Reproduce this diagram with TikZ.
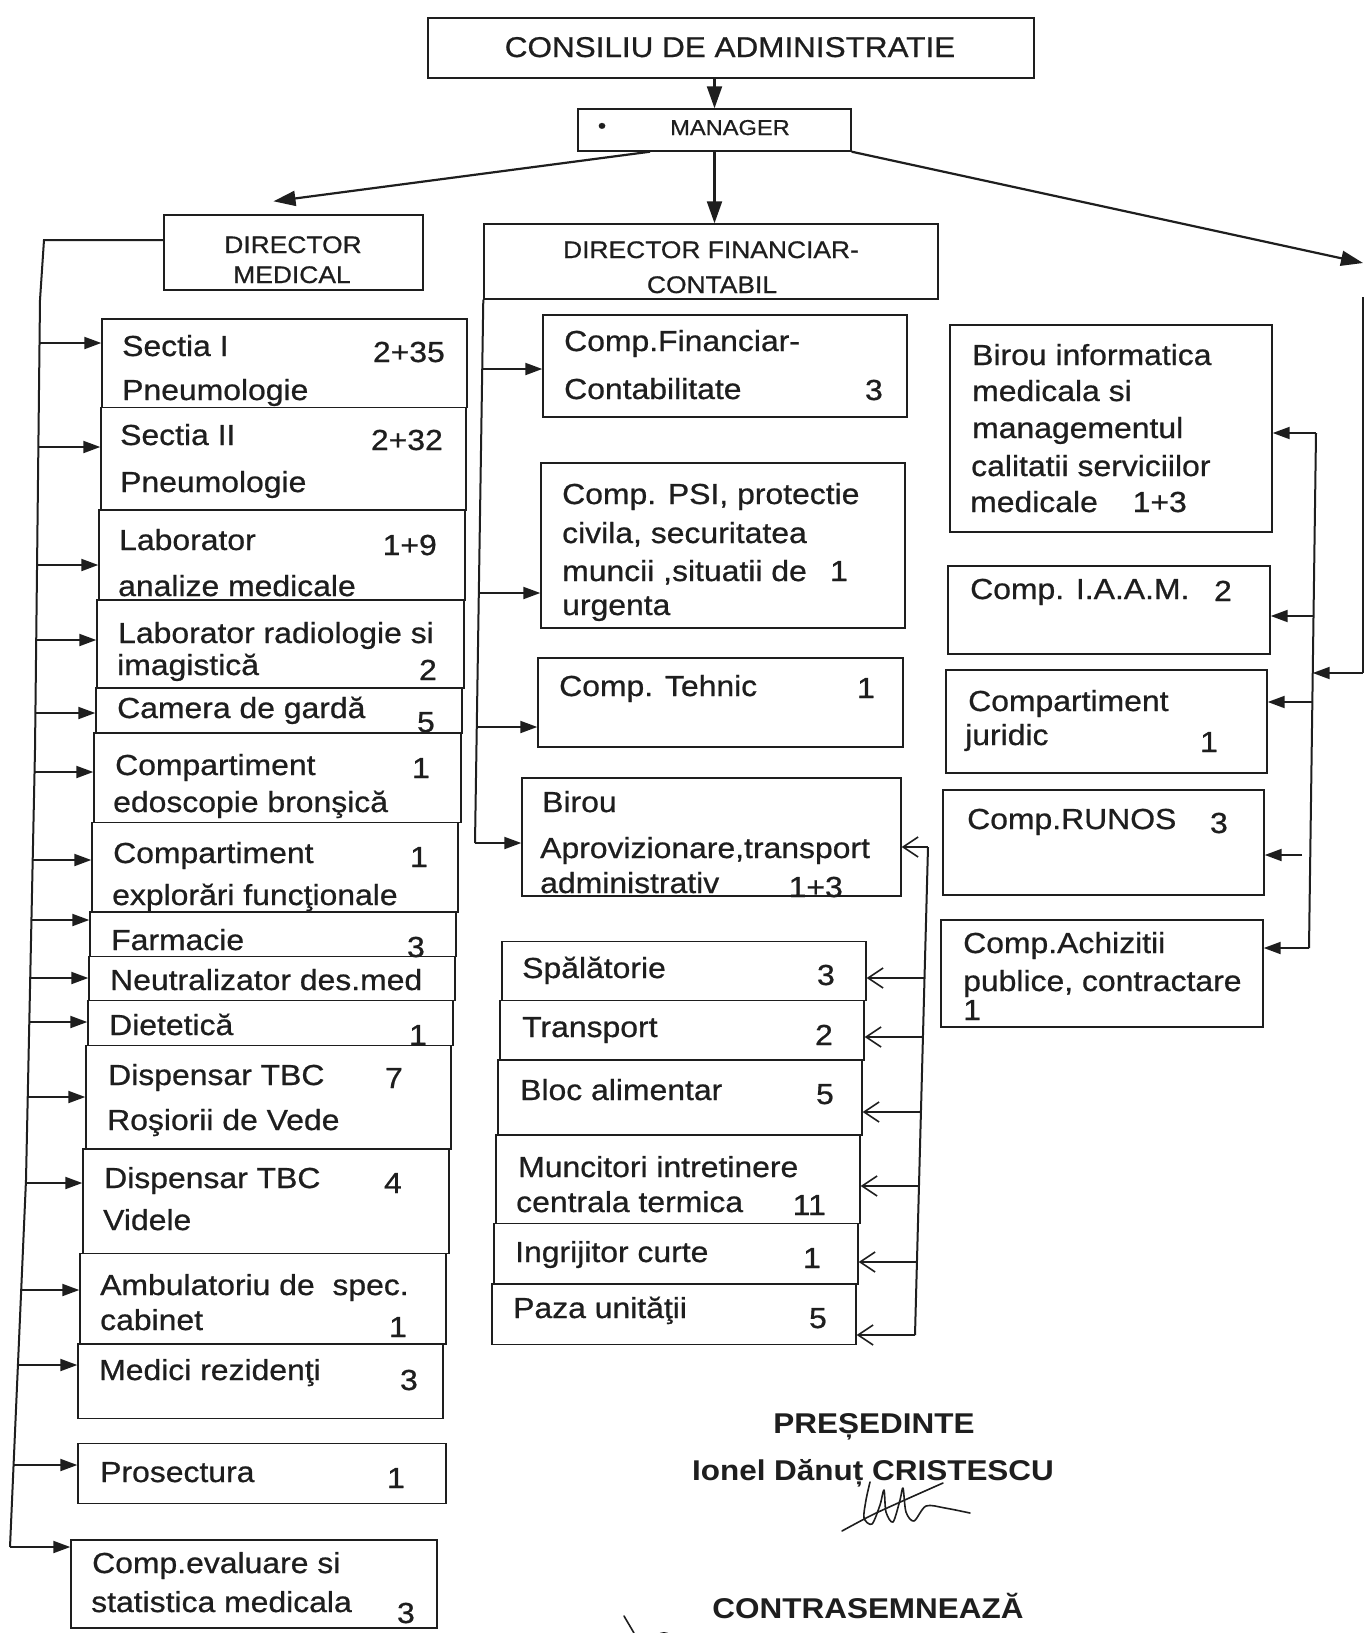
\documentclass[tikz,border=0pt]{standalone}
\usepackage{fontspec}
\setmainfont{Liberation Sans}[FakeStretch=1.1,UprightFeatures={FakeBold=0.7}]
\usetikzlibrary{arrows.meta,fit}
\definecolor{ink}{HTML}{1E1E1E}
\newcommand\fsz{\fontsize{29}{35}\selectfont}
\newcommand\fcons{\fontsize{28.6}{34}\selectfont}
\newcommand\fmgr{\fontsize{21.5}{26}\selectfont}
\newcommand\fdir{\fontsize{24}{29}\selectfont}
\newcommand\fsig{\fontsize{28.6}{34}\selectfont\bfseries}
\newcommand\ttx[4]{\node[tx] (#1) at (#2,#3) {#4};}
\newcommand\tnum[4]{\node[nr] (#1) at (#2,#3) {#4};}
\newcommand\tbox[5]{\node[bx,fit={(#2,#3)(#4,#5)}] (#1) {};}
\begin{document}
\begin{tikzpicture}[x=1pt,y=-1pt,
  bx/.style={draw=ink,line width=1.4pt,inner sep=0pt},
  tx/.style={anchor=base west,inner sep=0pt,font=\fsz,text=ink},
  nr/.style={anchor=base east,inner sep=0pt,font=\fsz,text=ink},
  tc/.style={anchor=base,inner sep=0pt,text=ink},
  con/.style={draw=ink,line width=2pt},
  arr/.style={draw=ink,line width=2pt,-{Triangle[length=17pt,width=12pt]}},
  arrb/.style={draw=ink,line width=2.2pt,-{Triangle[length=22pt,width=15pt]}},
  oarr/.style={draw=ink,line width=1.6pt,-{Straight Barb[length=15pt,width=20pt]}},
  sig/.style={draw=ink,line width=1.6pt,line cap=round,line join=round}]
\fill[white] (0,0) rectangle (1368,1633);
\useasboundingbox (0,0) rectangle (1368,1633);

% ---------- top ----------
\tbox{cons}{428}{18}{1034}{78}
\node[tc,font=\fcons] (tcons) at (730,57) {CONSILIU DE ADMINISTRATIE};
\tbox{mgr}{578}{109}{851}{151}
\node[tc,font=\fmgr] (tbul) at (602,133) {•};
\node[tc,font=\fmgr] (tmgr) at (730,135) {MANAGER};
\tbox{dmed}{164}{215}{423}{290}
\node[tc,font=\fdir] (tdm1) at (293,253) {DIRECTOR};
\node[tc,font=\fdir] (tdm2) at (292,283) {MEDICAL};
\tbox{dfin}{484}{224}{938}{299}
\node[tc,font=\fdir] (tdf1) at (711,258) {DIRECTOR FINANCIAR-};
\node[tc,font=\fdir] (tdf2) at (712,293) {CONTABIL};

\draw[arrb] (mgr.north |- cons.south) -- (mgr.north);
\draw[arrb] (mgr.south) -- (mgr.south |- dfin.north);
\draw[arrb] ([xshift=-64.5pt]mgr.south) -- ([xshift=-20pt,yshift=13pt]dmed.north);
\coordinate (rtip) at (1363,263);
\draw[arrb] (mgr.south east) -- (rtip);

% ---------- left column ----------
\tbox{a1}{102}{319}{467}{407.5}
\tbox{a2}{101}{407.5}{466}{510}
\tbox{a3}{99}{510}{465}{600}
\tbox{a4}{97}{600}{464}{688}
\tbox{a5}{96}{688}{462}{733}
\tbox{a6}{94}{733}{461}{822.5}
\tbox{a7}{92}{822.5}{458}{912}
\tbox{a8}{90}{912}{456}{956.5}
\tbox{a9}{89}{956.5}{455}{1000.5}
\tbox{a10}{88}{1000.5}{453}{1045.5}
\tbox{a11}{86}{1045.5}{451}{1149}
\tbox{a12}{83}{1149}{449}{1253.5}
\tbox{a13}{80}{1253.5}{446}{1344}
\tbox{a14}{78}{1344}{443}{1418.5}
\tbox{a15}{78}{1443.5}{446}{1503.5}
\tbox{a16}{71}{1540}{437}{1628}

\ttx{ta1a}{122}{356}{Sectia I}\tnum{na1}{445}{362}{2+35}\ttx{ta1b}{122}{400}{Pneumologie}
\ttx{ta2a}{120}{445}{Sectia II}\tnum{na2}{443}{450}{2+32}\ttx{ta2b}{120}{492}{Pneumologie}
\ttx{ta3a}{119}{550}{Laborator}\tnum{na3}{437}{555}{1+9}\ttx{ta3b}{118}{596}{analize medicale}
\ttx{ta4a}{118}{643}{Laborator radiologie si}\ttx{ta4b}{117}{675}{imagistică}\tnum{na4}{437}{680}{2}
\ttx{ta5a}{117}{718}{Camera de gardă}\tnum{na5}{435}{732}{5}
\ttx{ta6a}{115}{775}{Compartiment}\tnum{na6}{430}{778}{1}\ttx{ta6b}{113}{812}{edoscopie bronşică}
\ttx{ta7a}{113}{863}{Compartiment}\tnum{na7}{428}{867}{1}\ttx{ta7b}{112}{905}{explorări funcţionale}
\ttx{ta8a}{111}{950}{Farmacie}\tnum{na8}{425}{957}{3}
\ttx{ta9a}{110}{990}{Neutralizator des.med}
\ttx{ta10a}{109}{1035}{Dietetică}\tnum{na10}{427}{1045}{1}
\ttx{ta11a}{108}{1085}{Dispensar TBC}\tnum{na11}{403}{1088}{7}\ttx{ta11b}{107}{1130}{Roşiorii de Vede}
\ttx{ta12a}{104}{1188}{Dispensar TBC}\tnum{na12}{402}{1193}{4}\ttx{ta12b}{103}{1230}{Videle}
\ttx{ta13a}{100}{1295}{Ambulatoriu de\ \ spec.}\ttx{ta13b}{100}{1330}{cabinet}\tnum{na13}{407}{1337}{1}
\ttx{ta14a}{99}{1380}{Medici rezidenţi}\tnum{na14}{418}{1390}{3}
\ttx{ta15a}{100}{1482}{Prosectura}\tnum{na15}{405}{1488}{1}
\ttx{ta16a}{92}{1573}{Comp.evaluare si}\ttx{ta16b}{91}{1612}{statistica medicala}\tnum{na16}{415}{1623}{3}

% left bus
\coordinate (lb0) at (44,240);
\coordinate (lb1) at (40,300);
\coordinate (lb2) at (35,750);
\coordinate (lb3) at (26,1180);
\coordinate (lb4) at (10,1547);
\draw[con] ([yshift=12.5pt]dmed.west) -- (lb0) -- (lb1) -- (lb2) -- (lb3) -- (lb4);
\coordinate (la1) at (39.5,343);
\coordinate (la2) at (38.4,447);
\coordinate (la3) at (37.1,565);
\coordinate (la4) at (36.2,640);
\coordinate (la5) at (35.4,713);
\coordinate (la6) at (34.5,772);
\coordinate (la7) at (32.7,860);
\coordinate (la8) at (31.4,920);
\coordinate (la9) at (30.2,978);
\coordinate (la10) at (29.3,1022);
\coordinate (la11) at (27.7,1097);
\coordinate (la12) at (25.9,1183);
\coordinate (la13) at (21.2,1290);
\coordinate (la14) at (17.9,1365);
\coordinate (la15) at (13.6,1465);
\foreach \i in {1,...,15} {\draw[arr] (la\i) -- (la\i -| a\i.west);}
\draw[arr] (lb4) -- (lb4 -| a16.west);

% ---------- middle column ----------
\tbox{m1}{543}{315}{907}{417}
\tbox{m2}{541}{463}{905}{628}
\tbox{m3}{538}{658}{903}{747}
\tbox{m4}{522}{778}{901}{896}
\ttx{tm1a}{564}{351}{Comp.Financiar-}\ttx{tm1b}{564}{399}{Contabilitate}\tnum{nm1}{883}{400}{3}
\ttx{tm2a}{562}{504}{Comp. PSI, protectie}\ttx{tm2b}{562}{543}{civila, securitatea}
\ttx{tm2c}{562}{581}{muncii ,situatii de}\tnum{nm2}{848}{581}{1}\ttx{tm2d}{562}{615}{urgenta}
\ttx{tm3a}{559}{696}{Comp. Tehnic}\tnum{nm3}{875}{698}{1}
\ttx{tm4a}{542}{812}{Birou}\ttx{tm4b}{540}{858}{Aprovizionare,transport}
\ttx{tm4c}{540}{893}{administrativ}\tnum{nm4}{843}{897}{1+3}

\coordinate (mb4) at (475,843);
\draw[con] (dfin.south west) -- (mb4);
\coordinate (mb1) at (482.8,369);
\coordinate (mb2) at (479.1,593);
\coordinate (mb3) at (476.9,727);
\foreach \i in {1,...,4} {\draw[arr] (mb\i) -- (mb\i -| m\i.west);}

% service stack
\tbox{s1}{502}{941.5}{866}{1000.5}
\tbox{s2}{500}{1000.5}{864}{1060}
\tbox{s3}{498}{1060}{862}{1135}
\tbox{s4}{496}{1135}{860}{1223.5}
\tbox{s5}{494}{1223.5}{858}{1284}
\tbox{s6}{492}{1284}{856}{1344.5}
\ttx{ts1}{522}{978}{Spălătorie}\tnum{ns1}{835}{985}{3}
\ttx{ts2}{522}{1037}{Transport}\tnum{ns2}{833}{1045}{2}
\ttx{ts3}{520}{1100}{Bloc alimentar}\tnum{ns3}{834}{1104}{5}
\ttx{ts4a}{518}{1177}{Muncitori intretinere}\ttx{ts4b}{516}{1212}{centrala termica}\tnum{ns4}{826}{1215}{11}
\ttx{ts5}{515}{1262}{Ingrijitor curte}\tnum{ns5}{821}{1268}{1}
\ttx{ts6}{513}{1318}{Paza unităţii}\tnum{ns6}{827}{1328}{5}

\coordinate (rb0) at (928,847);
\coordinate (rb6) at (915,1335);
\draw[con] (rb0) -- (rb6);
\draw[oarr] (rb0) -- (rb0 -| m4.east);
\coordinate (rb1) at (924.5,978);
\coordinate (rb2) at (922.9,1037);
\coordinate (rb3) at (920.9,1112);
\coordinate (rb4) at (919,1186);
\coordinate (rb5) at (917,1262);
\foreach \i in {1,...,6} {\draw[oarr] (rb\i) -- (rb\i -| s\i.east);}

% ---------- right column ----------
\tbox{r1}{950}{325}{1272}{532}
\tbox{r2}{948}{566}{1270}{654}
\tbox{r3}{946}{670}{1267}{773}
\tbox{r4}{943}{790}{1264}{895}
\tbox{r5}{941}{920}{1263}{1027}
\ttx{tr1a}{972}{365}{Birou informatica}\ttx{tr1b}{972}{401}{medicala si}
\ttx{tr1c}{972}{438}{managementul}\ttx{tr1d}{971}{476}{calitatii serviciilor}
\ttx{tr1e}{970}{512}{medicale}\tnum{nr1}{1187}{512}{1+3}
\ttx{tr2}{970}{599}{Comp. I.A.A.M.}\tnum{nr2}{1232}{601}{2}
\ttx{tr3a}{968}{711}{Compartiment}\ttx{tr3b}{965}{745}{juridic}\tnum{nr3}{1218}{752}{1}
\ttx{tr4}{967}{829}{Comp.RUNOS}\tnum{nr4}{1228}{833}{3}
\ttx{tr5a}{963}{953}{Comp.Achizitii}\ttx{tr5b}{963}{991}{publice, contractare}\ttx{tr5c}{963}{1020}{1}

\coordinate (otop) at (1363,297);
\coordinate (obot) at (1363,673);
\coordinate (ibj) at (1312.7,673);
\draw[con] (otop) -- (obot);
\draw[arr] (obot) -- (ibj);
\coordinate (ib1) at (1316,433);
\coordinate (ib5) at (1309,948);
\draw[con] (ib1) -- (ib5);
\coordinate (ib2) at (1313.5,616);
\coordinate (ib3) at (1312.3,702);
\coordinate (ib4) at (1302,855);
\foreach \i in {1,...,5} {\draw[arr] (ib\i) -- (ib\i -| r\i.east);}

% ---------- signatures ----------
\node[tc,font=\fsig] (pres) at (874,1433) {PREȘEDINTE};
\node[tc,font=\fsig] (pname) at (873,1480) {Ionel Dănuț CRISTESCU};
\node[tc,font=\fsig] (contra) at (868,1618) {CONTRASEMNEAZĂ};
\draw[sig] plot[smooth] coordinates {(842,1531) (872,1515) (907,1499) (943,1483)};
\draw[sig] plot[smooth] coordinates {(870,1482) (866,1500) (864,1518) (872,1524) (880,1505) (884,1490) (886,1512) (893,1522) (900,1500) (903,1488) (906,1512) (914,1521) (926,1506) (945,1508) (970,1513)};
\draw[sig] (624,1616) -- (634,1633);
\fill[ink] (664,1642) circle (10);
\end{tikzpicture}
\end{document}
